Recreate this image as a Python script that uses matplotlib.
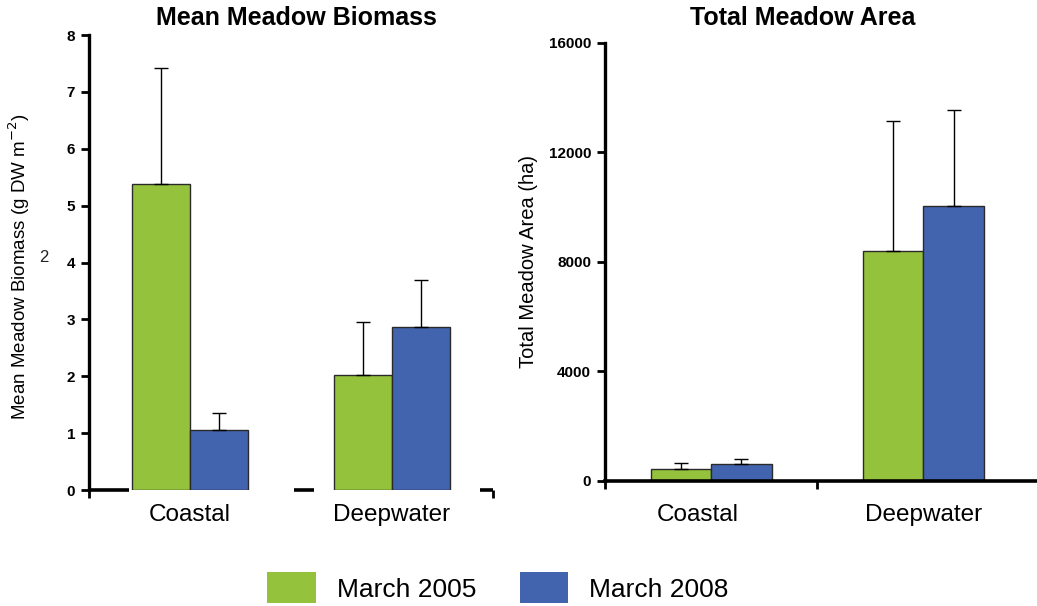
import matplotlib
matplotlib.use("Agg")
import matplotlib.pyplot as plt
from matplotlib.patches import Patch
from matplotlib.transforms import blended_transform_factory

plt.rcParams['font.family'] = ['Liberation Sans', 'DejaVu Sans']

categories = ["Coastal", "Deepwater"]
series = ["March 2005", "March 2008"]

biomass_2005 = [5.38, 2.02]
biomass_2005_err = [2.04, 0.93]
biomass_2008 = [1.05, 2.87]
biomass_2008_err = [0.30, 0.82]

area_2005 = [440, 8400]
area_2005_err = [220, 4750]
area_2008 = [620, 10050]
area_2008_err = [180, 3500]

biomass_ticks = [0, 1, 2, 3, 4, 5, 6, 7, 8]
area_ticks = [0, 4000, 8000, 12000, 16000]

GREEN = "#95C23C"
BLUE = "#4264AE"
EDGE = "#2a2a2a"

fig = plt.figure(figsize=(10.37, 6.06), dpi=100)
ax1 = fig.add_axes([0.0858, 0.1914, 0.3896, 0.7508])
ax2 = fig.add_axes([0.5834, 0.2063, 0.4195, 0.7228])

w = 0.285


def draw_bars(ax, v1, e1, v2, e2):
    x = list(range(len(categories)))
    for xs, vals, errs, col in ((
            [i - w / 2 for i in x], v1, e1, GREEN), ([i + w / 2 for i in x], v2, e2, BLUE)):
        ax.bar(xs, vals, width=w, color=col, edgecolor=EDGE, linewidth=1.0, zorder=2)
        ax.errorbar(xs, vals, yerr=[[0] * len(vals), errs], fmt="none", ecolor="black",
                    elinewidth=1.0, capsize=5, capthick=1.0, zorder=3)


def style_axis(ax, ticks, title, title_x, ylabel, ylabel_size, label_shift):
    for s in ("top", "right"):
        ax.spines[s].set_visible(False)
    ax.spines["left"].set_linewidth(2.4)
    ax.set_ylim(ticks[0], ticks[-1])
    ax.set_yticks(ticks)
    ax.set_yticklabels([str(t) for t in ticks], fontsize=11, fontweight="bold")
    ax.tick_params(axis="y", direction="out", length=6, width=2, pad=4)
    fig.text(title_x, 0.970, title, fontsize=18, fontweight="bold",
             ha="center", va="center")
    ax.set_ylabel(ylabel, fontsize=ylabel_size)
    # category names under each group
    tr = blended_transform_factory(ax.transData, fig.transFigure)
    for i, c in enumerate(categories):
        ax.text(i + label_shift[i], 0.150, c, transform=tr, ha="center", va="center",
                fontsize=17.5)


# Left panel: mean biomass
draw_bars(ax1, biomass_2005, biomass_2005_err, biomass_2008, biomass_2008_err)
ax1.set_xlim(-0.5, 1.5)
style_axis(ax1, biomass_ticks, "Mean Meadow Biomass", 0.2855,
           "Mean Meadow Biomass (g DW m$^{-2}$)", 13.5, [0.0, 0.0])
ax1.spines["bottom"].set_visible(False)
ax1.set_xticks([-0.5, 1.5])
ax1.set_xticklabels([])
ax1.tick_params(axis="x", direction="out", length=6, width=2)
for a, b in ((-0.5, -0.3), (0.517, 0.612), (1.438, 1.5)):
    ax1.plot([a, b], [0, 0], color="black", lw=2.6, solid_capstyle="butt",
             clip_on=False, zorder=4)
ax1.yaxis.set_label_coords(-0.14, 0.49)
ax1.text(-0.113, 0.51, "2", transform=ax1.transAxes, fontsize=12,
         ha="center", va="center", color="#222222")

# Right panel: total area
draw_bars(ax2, area_2005, area_2005_err, area_2008, area_2008_err)
ax2.set_xlim(-0.5, 1.55)
style_axis(ax2, area_ticks, "Total Meadow Area", 0.774,
           "Total Meadow Area (ha)", 14.5, [-0.065, 0.0])
ax2.spines["bottom"].set_linewidth(2.6)
ax2.set_xticks([-0.5, 0.5])
ax2.set_xticklabels([])
ax2.tick_params(axis="x", direction="out", length=6, width=2)
ax2.yaxis.set_label_coords(-0.155, 0.5)

# Shared legend
handles = [Patch(facecolor=GREEN, edgecolor="none"), Patch(facecolor=BLUE, edgecolor="none")]
fig.legend(handles, series, loc="lower center", bbox_to_anchor=(0.48, -0.035), ncol=2,
           frameon=False, fontsize=19, handlelength=1.82, handleheight=1.44,
           handletextpad=0.8, columnspacing=1.65)

fig.savefig("out.png", dpi=100)
